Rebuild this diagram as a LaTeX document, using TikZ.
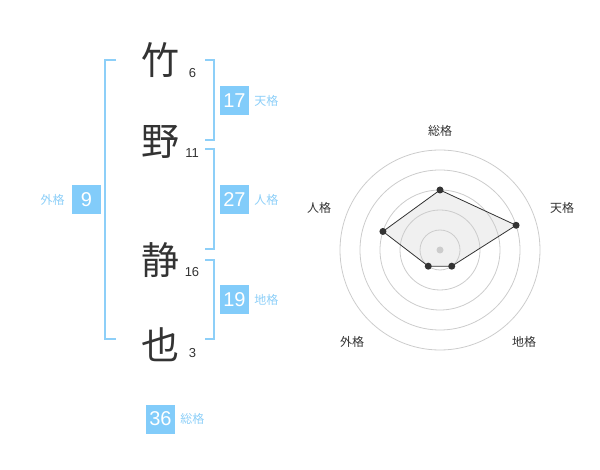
\documentclass[tikz,border=0pt]{standalone}
\usepackage{fontspec}
\setmainfont{Liberation Sans}
\newfontfamily\jp{Noto Sans CJK JP}
\usetikzlibrary{positioning}

\definecolor{boxblue}{HTML}{82CCFA}
\definecolor{lblblue}{HTML}{8DCFF8}
\definecolor{ink}{HTML}{333333}
\definecolor{ring}{HTML}{CCCCCC}
\definecolor{area}{HTML}{F0F0F0}

\tikzset{
    kanji/.style={font=\jp\fontsize{38}{38}\selectfont, text=ink, inner sep=0pt},
    strokes/.style={font=\fontsize{13}{13}\selectfont, text=ink, inner sep=0pt},
    numbox/.style={fill=boxblue, text=white, minimum size=29pt, inner sep=0pt,
        font=\fontsize{20}{20}\selectfont},
    kaku/.style={font=\jp\fontsize{12}{12}\selectfont, text=lblblue, inner sep=0pt},
    bracket/.style={draw=lblblue, line width=2pt},
    axislabel/.style={font=\jp\fontsize{12}{12}\selectfont, text=ink, inner sep=0pt},
    vertex/.style={circle, fill=ink, inner sep=0pt, minimum size=7pt},
}

\begin{document}
\begin{tikzpicture}[x=1pt, y=-1pt]

    \useasboundingbox (0,0) rectangle (600,470);

    % name
    \node[kanji] (K1) at (160,60) {竹};
    \node[kanji] (K2) at (160,142) {野};
    \node[kanji] (K3) at (160,260) {静};
    \node[kanji] (K4) at (160,345) {也};

    \node[strokes] (S1) at (192.5,73) {6};
    \node[strokes] (S2) at (192,153) {11};
    \node[strokes] (S3) at (192,272.5) {16};
    \node[strokes] (S4) at (192.5,353) {3};

    % brackets
    \draw[bracket] (116,60) -- (105,60) -- (105,339) -- (116,339);
    \draw[bracket] (205,60) -- (214,60) -- (214,140) -- (205,140);
    \draw[bracket] (205,149) -- (214,149) -- (214,249) -- (205,249);
    \draw[bracket] (205,260) -- (214,260) -- (214,339) -- (205,339);

    % boxes
    \node[numbox] (ten) at (234.5,100.5) {17};
    \node[numbox] (jin) at (234.5,200) {27};
    \node[numbox] (chi) at (234.5,300) {19};
    \node[numbox] (gai) at (86.5,200) {9};
    \node[numbox] (sou) at (160.5,419) {36};

    \node[kaku, right=5pt of ten] (tenL) {天格};
    \node[kaku, right=5pt of jin] (jinL) {人格};
    \node[kaku, right=5pt of chi] (chiL) {地格};
    \node[kaku, left=7pt of gai] (gaiL) {外格};
    \node[kaku, right=5pt of sou] (souL) {総格};

    % radar
    \coordinate (O) at (440,250);
    \path (O) ++(-90:60) coordinate (P1);
    \path (O) ++(-18:80) coordinate (P2);
    \path (O) ++(54:20) coordinate (P3);
    \path (O) ++(126:20) coordinate (P4);
    \path (O) ++(-162:60) coordinate (P5);

    \fill[area] (P1) -- (P2) -- (P3) -- (P4) -- (P5) -- cycle;
    \foreach \r in {20,40,...,100}
        \draw[ring, line width=0.8pt] (O) circle (\r pt);
    \fill[ring] (O) circle (3.5pt);
    \draw[ink, line width=0.8pt] (P1) -- (P2) -- (P3) -- (P4) -- (P5) -- cycle;
    \foreach \p in {P1,P2,P3,P4,P5}
        \node[vertex] at (\p) {};

    \node[axislabel] (aSou) at (440,131) {総格};
    \node[axislabel] (aTen) at (562,208) {天格};
    \node[axislabel] (aJin) at (319,208) {人格};
    \node[axislabel] (aGai) at (352,342) {外格};
    \node[axislabel] (aChi) at (524,342) {地格};

\end{tikzpicture}
\end{document}
